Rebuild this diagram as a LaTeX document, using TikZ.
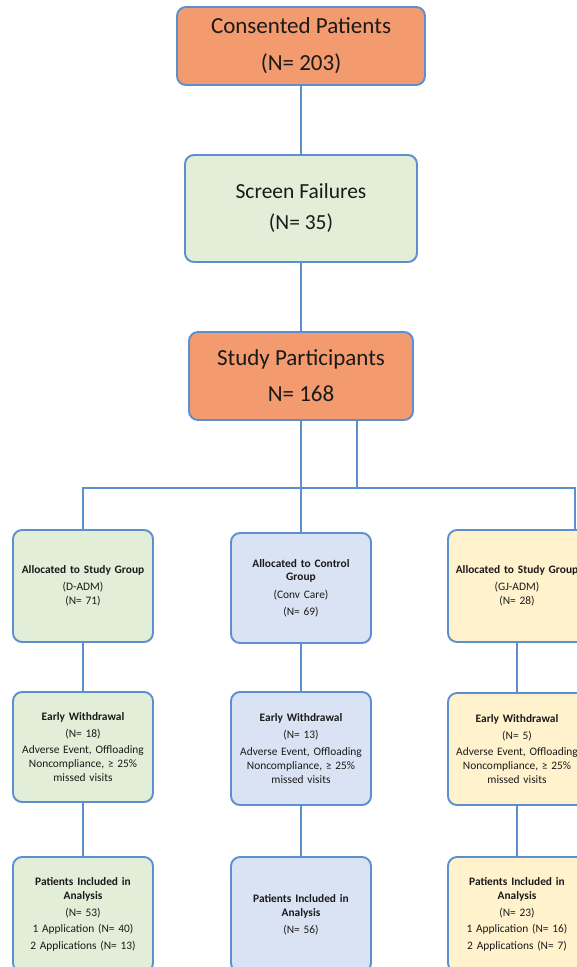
\documentclass[tikz,border=0pt]{standalone}
\usepackage{fontspec}
\setmainfont{Carlito}
\definecolor{keret}{HTML}{5B8FD0}
\definecolor{szoveg}{HTML}{1A1A1A}
\definecolor{narancsfill}{HTML}{F39A6E}
\definecolor{zoldfill}{HTML}{E2EED8}
\definecolor{kekfill}{HTML}{DAE3F3}
\definecolor{sargafill}{HTML}{FFF2CC}
\tikzset{
  doboz/.style={draw=keret,line width=1.9pt,rounded corners=9pt,inner sep=0pt,align=center,text=szoveg},
  nagy/.style={doboz,fill=narancsfill,font=\fontsize{23}{37}\selectfont},
  kicsi/.style={doboz,minimum width=140pt,text width=136pt,font=\fontsize{11.4}{13.8}\selectfont},
  zold/.style={kicsi,fill=zoldfill},
  kek/.style={kicsi,fill=kekfill},
  sarga/.style={kicsi,fill=sargafill},
  vonal/.style={draw=keret,line width=1.9pt},
}

\begin{document}
\begin{tikzpicture}[x=1pt,y=-1pt]
  \useasboundingbox (0,0) rectangle (577,967);
  \clip (0,0) rectangle (577,967);
  % felso dobozok
  \node[nagy,minimum width=248pt,minimum height=78pt] (beleegyezes) at (301,46) {Consented Patients\\(N= 203)};
  \node[nagy,fill=zoldfill,minimum width=232pt,minimum height=107pt,font=\fontsize{21.5}{31}\selectfont] (kieses) at (301,208.5) {Screen Failures\\(N= 35)};
  \node[nagy,minimum width=224pt,minimum height=88pt,font=\fontsize{23}{36}\selectfont] (resztvevok) at (301,376) {Study Participants\\N= 168};
  % csoportok
  \node[zold,minimum height=112pt] (bal1) at (83,586) {\textbf{Allocated to Study Group}\\[3pt](D-ADM)\\(N= 71)};
  \node[kek,minimum height=110pt] (kozep1) at (301,588) {\textbf{Allocated to Control}\\\textbf{Group}\\[4pt](Conv Care)\\[3pt](N= 69)};
  \node[sarga,minimum width=138pt,minimum height=112pt] (jobb1) at (517,586) {\textbf{Allocated to Study Group}\\[3pt](GJ-ADM)\\(N= 28)};
  % kiesok
  \node[zold,minimum height=110pt] (bal2) at (83,747) {\textbf{Early Withdrawal}\\[3pt](N= 18)\\[3pt]Adverse Event, Offloading\\Noncompliance, ≥ 25\%\\missed visits};
  \node[kek,minimum height=113pt] (kozep2) at (301,748.5) {\textbf{Early Withdrawal}\\[3pt](N= 13)\\[3pt]Adverse Event, Offloading\\Noncompliance, ≥ 25\%\\missed visits};
  \node[sarga,minimum width=138pt,minimum height=112pt] (jobb2) at (517,749) {\textbf{Early Withdrawal}\\[3pt](N= 5)\\[3pt]Adverse Event, Offloading\\Noncompliance, ≥ 25\%\\missed visits};
  % elemzes
  \node[zold,minimum height=115pt] (bal3) at (83,914.5) {\textbf{Patients Included in}\\\textbf{Analysis}\\[3pt](N= 53)\\[3pt]1 Application (N= 40)\\[3pt]2 Applications (N= 13)};
  \node[kek,minimum height=115pt] (kozep3) at (301,914.5) {\textbf{Patients Included in}\\\textbf{Analysis}\\[3pt](N= 56)};
  \node[sarga,minimum width=138pt,minimum height=115pt] (jobb3) at (517,914.5) {\textbf{Patients Included in}\\\textbf{Analysis}\\[3pt](N= 23)\\[3pt]1 Application (N= 16)\\[3pt]2 Applications (N= 7)};
  % vonalak
  \draw[vonal] (beleegyezes.south) -- (kieses.north);
  \draw[vonal] (kieses.south) -- (resztvevok.north);
  \coordinate (elag) at (357,488);
  \coordinate (jobbcsat) at (575,488);
  \draw[vonal] (resztvevok.south) -- (kozep1.north);
  \draw[vonal] (resztvevok.south -| elag) -- (elag);
  \draw[vonal] (bal1.north) |- (jobbcsat) -- (jobbcsat |- jobb1.north);
  \foreach \o in {bal,kozep,jobb} {
    \draw[vonal] (\o1.south) -- (\o2.north);
    \draw[vonal] (\o2.south) -- (\o3.north);
  }
\end{tikzpicture}
\end{document}
